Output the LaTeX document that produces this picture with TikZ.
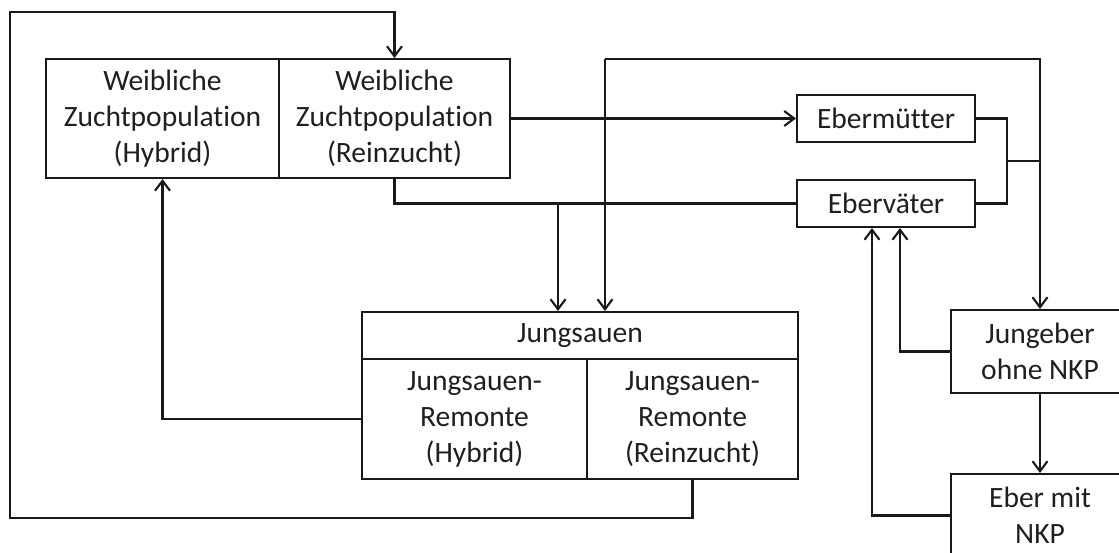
\documentclass[tikz,border=0pt]{standalone}
\usepackage{fontspec}
\setmainfont[Ligatures=NoCommon]{Carlito}
\usetikzlibrary{arrows.meta, positioning}
\definecolor{lineBlack}{gray}{0.1}
\definecolor{textBlack}{gray}{0.12}

\begin{document}
\begin{tikzpicture}[x=0.02cm, y=-0.02cm, >={Straight Barb[length=2mm,width=3mm]},
    box/.style={draw=lineBlack, line width=1.2pt, align=center, inner sep=0pt, text=textBlack,
        font=\fontsize{16.8}{20.5}\selectfont},
    conn/.style={draw=lineBlack, line width=1.2pt}]
    \useasboundingbox (0,0) rectangle (1119,553);
    \clip (0,0) rectangle (1119,553);

    % Zuchtpopulation
    \node[box, minimum width=4.66cm, minimum height=2.38cm] (hyb) at (162.5,118.5) {Weibliche\\Zuchtpopulation\\(Hybrid)};
    \node[box, minimum width=4.62cm, minimum height=2.38cm] (rein) at (394.5,118.5) {Weibliche\\Zuchtpopulation\\(Reinzucht)};

    % Eltern der Eber
    \node[box, minimum width=3.56cm, minimum height=0.94cm] (mutter) at (886,118.5) {Ebermütter};
    \node[box, minimum width=3.56cm, minimum height=0.94cm] (vater) at (886,203.5) {Eberväter};

    % Jungsauen
    \node[box, minimum width=8.72cm, minimum height=0.94cm] (jung) at (580,335.5) {Jungsauen};
    \node[box, minimum width=4.5cm, minimum height=2.4cm] (jhyb) at (474.5,419) {Jungsauen-\\Remonte\\(Hybrid)};
    \node[box, minimum width=4.22cm, minimum height=2.4cm] (jrein) at (692.5,419) {Jungsauen-\\Remonte\\(Reinzucht)};

    % Eber
    \node[box, minimum width=3.56cm, minimum height=1.66cm] (jeber) at (1040,351.5) {Jungeber\\ohne NKP};
    \node[box, minimum width=3.56cm, minimum height=1.66cm] (nkp) at (1040,515.5) {Eber mit\\NKP};

    \coordinate (join) at (1007,161);
    \coordinate (topL) at (605,59);
    \coordinate (topR) at (1040,59);
    \coordinate (split) at (558,203.5);

    \draw[conn, ->] (jrein.south) -- ++(0,38) -| (10,12) -| (rein.north);
    \draw[conn, ->] (rein.east) -- (mutter.west);
    \draw[conn] (mutter.east) -| (join) |- (vater.east);
    \draw[conn] (join) -- (join -| topR);
    \draw[conn, ->] (topL) -- (topR) -- (jeber.north);
    \draw[conn, ->] (topL) -- (topL |- jung.north);
    \draw[conn] (rein.south) |- (vater.west);
    \draw[conn, ->] (split) -- (split |- jung.north);
    \draw[conn, ->] (jhyb.west) -| (hyb.south);
    \draw[conn, ->] (jeber.west) -| ([xshift=0.28cm]vater.south);
    \draw[conn, ->] (nkp.west) -| ([xshift=-0.28cm]vater.south);
    \draw[conn, ->] (jeber.south) -- (nkp.north);
\end{tikzpicture}
\end{document}
